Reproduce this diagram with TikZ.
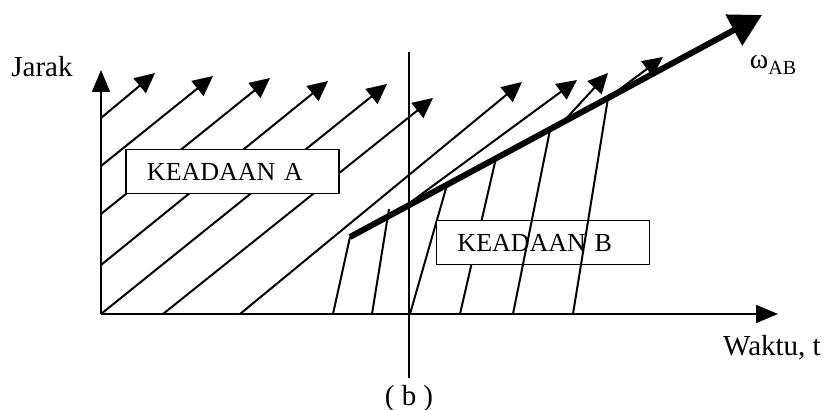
\documentclass[tikz,border=0pt]{standalone}
\usepackage{fontspec}
\setmainfont{Liberation Serif}
\usetikzlibrary{arrows.meta,positioning}

\begin{document}
\begin{tikzpicture}[
    x=0.5pt, y=-0.5pt,
    axis/.style={-{Triangle[length=11pt,width=9pt]}, line width=0.8pt},
    traj/.style={line width=1pt},
    trajarrow/.style={traj, -{Triangle[length=10pt,width=9.5pt]}},
    shock/.style={line width=3pt, -{Triangle[length=16pt,width=17pt]}},
    statebox/.style={rectangle, draw, line width=0.8pt, fill=white, inner xsep=10.5pt, text width=85.5pt, align=left, minimum height=22pt, font=\fontsize{13}{15}\selectfont},
    axislabel/.style={font=\fontsize{14.5}{17}\selectfont}
]
    \useasboundingbox (0,0) rectangle (827,410);

    % Axes
    \coordinate (origin) at (101,314);
    \coordinate (ytip) at (101,70);
    \coordinate (xtip) at (778,314);
    \draw[axis] (origin) -- (ytip);
    \draw[axis] (origin) -- (xtip);
    \node[axislabel] (jarak) at (42,67) {Jarak};
    \node[axislabel] (waktu) at (772,348) {Waktu, t};

    % Boundary (b)
    \coordinate (btop) at (409,52);
    \coordinate (bbot) at (409,378);
    \draw[line width=0.6pt] (btop) -- (bbot);
    \node[axislabel, below=0pt of bbot] (blabel) {( b )};

    % State A trajectories
    \draw[trajarrow] (101,118) -- (155,73);
    \draw[trajarrow] (101,166) -- (213,76);
    \draw[trajarrow] (101,214) -- (270,78);
    \draw[trajarrow] (101,265) -- (328,81);
    \draw[trajarrow] (origin) -- (387,84);
    \draw[trajarrow] (163,314) -- (433,98);
    \draw[trajarrow] (240,314) -- (522,82);

    % State B trajectories
    \draw[traj] (333,314) -- (350,237);
    \draw[traj] (372,314) -- (389,209);
    \draw[traj] (410,314) -- (447,185);
    \draw[traj] (460,314) -- (496,158);

    % Trajectories after the shock
    \draw[trajarrow] (400,210) -- (577,80);
    \draw[trajarrow] (563,122) -- (608,73);
    \draw[trajarrow] (608,98) -- (663,57);

    % Shock wave
    \coordinate (shockstart) at (350,237);
    \coordinate (shocktip) at (762,15);
    \draw[shock] (shockstart) -- (shocktip);
    \node (omega) at (773,65) {{\fontsize{14}{16}\selectfont ω}\raisebox{-3pt}{\fontsize{10}{12}\selectfont AB}};

    % State labels
    \node[statebox] (stateA) at (232.5,171.5) {KEADAAN A};
    \node[statebox] (stateB) at (543,242.5) {KEADAAN B};

    % Lines crossing state B label
    \draw[traj] (513,314) -- (550,130);
    \draw[traj] (573,314) -- (608,98);

\end{tikzpicture}
\end{document}
